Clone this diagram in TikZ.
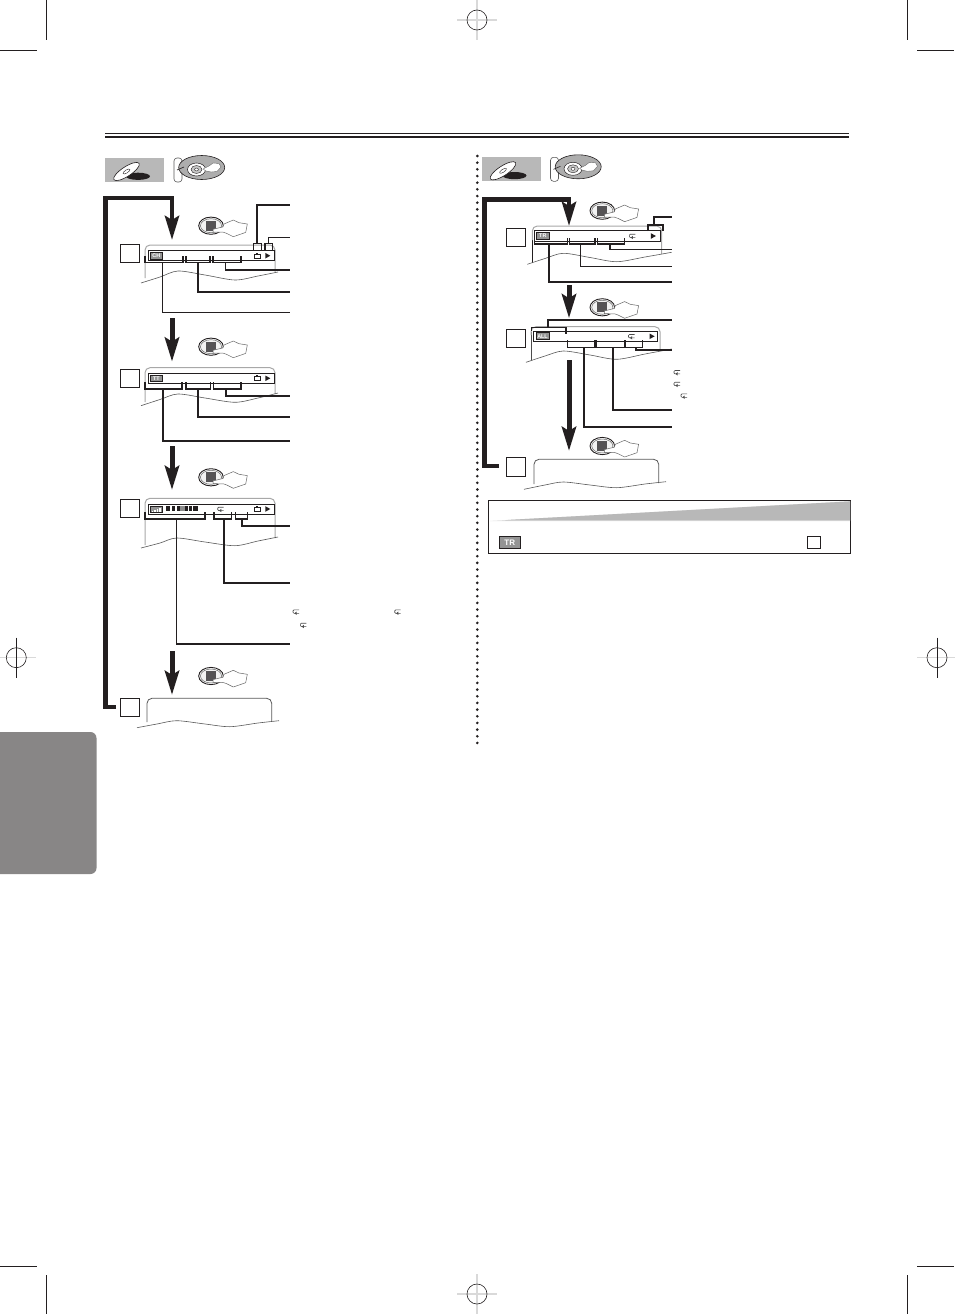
\documentclass[tikz,border=0pt]{standalone}
\usepackage{fontspec}
\setmainfont{Liberation Sans}
\usetikzlibrary{arrows.meta}
\definecolor{ink}{HTML}{231F20}
\definecolor{tabgray}{HTML}{888686}
\definecolor{panelgray}{HTML}{B8B8B8}
\definecolor{sidegray}{HTML}{A8A8A8}
\definecolor{keygray}{HTML}{555355}
\tikzset{
  trim/.style={ink,line width=1pt},
  reggray/.style={black!15,line width=1.2pt},
  stepbox/.style={draw=ink,fill=white,line width=.9pt,inner sep=0pt,minimum width=19pt,minimum height=18pt},
  badge/.style={draw=ink,fill=black!42,text=white,line width=.7pt,inner sep=0pt,font=\fontsize{5.4}{5.4}\selectfont\bfseries},
  barbox/.style={draw=ink,fill=white,line width=1pt},
  bracket/.style={draw=ink,line width=1.3pt,line join=miter},
  leadthin/.style={draw=ink,line width=1.1pt},
  leadmid/.style={draw=ink,line width=1.7pt},
  wave/.style={draw=black!65,line width=.6pt},
  shell/.style={draw=sidegray,line width=1pt,rounded corners=5pt},
  bigarrow/.style={draw=ink,line width=5pt,-{Stealth[width=14pt,length=24pt,inset=4pt]}},
  loopline/.style={draw=ink,line width=4.6pt,line join=miter,-{Stealth[width=14pt,length=24pt,inset=4pt]}},
  hand/.style={draw=black!60,fill=white,line width=.5pt,line join=round},
}
\newcommand{\regmark}[4]{%
  \draw[#3] (#1-20,#2) -- (#1+20,#2);
  \draw[#4] (#1,#2-20) -- (#1,#2+20);
  \draw[ink,line width=.6pt] (#1,#2) circle[radius=10pt];
}
\newcommand{\presskey}[2]{%
  \begin{scope}[shift={(#1,#2)}]
    \draw[ink,fill=white,line width=.9pt] (0,0) ellipse[x radius=12.3pt,y radius=8.6pt];
    \draw[black!60,fill=black!5,line width=.5pt] (0,0) ellipse[x radius=10.6pt,y radius=7pt];
    \fill[keygray] (-5,-5) rectangle (5,5);
    \draw[hand] (2,3.6) -- (12,1.2) -- (13,-1.7) -- (22.3,-5.7) -- (28,-3) -- (36.3,-1.7) -- (34.7,6.7) -- (22.3,11) -- (15.7,7.7) -- (12.3,6.5) -- (2,6.4) -- cycle;
  \end{scope}
}
\newcommand{\discicons}[2]{%
  \begin{scope}[shift={(#1,#2)}]
    \fill[panelgray] (0,0) rectangle (59,24);
    \fill[ink] (33,18.3) ellipse[x radius=12pt,y radius=3.6pt];
    \begin{scope}[shift={(21.5,13.5)},rotate=33]
      \draw[ink,fill=white,line width=.6pt] (0,0) ellipse[x radius=15pt,y radius=4.8pt];
      \draw[ink,line width=.4pt] (0,0) ellipse[x radius=4pt,y radius=1.5pt];
    \end{scope}
    \draw[black!65,fill=white,line width=.6pt,rounded corners=3pt] (69,0) rectangle (77,24);
    \draw[ink,fill=black!32,line width=.6pt] (96.7,9.5) ellipse[x radius=23pt,y radius=12pt];
    \draw[ink,line width=.6pt] (72,12) -- (79,9);
    \draw[ink,fill=white,line width=.5pt] (91.5,11.5) ellipse[x radius=9pt,y radius=6.5pt];
    \draw[ink,fill=black!22,line width=.4pt] (91.5,11.5) ellipse[x radius=5.5pt,y radius=4pt];
    \draw[ink,fill=white,line width=.4pt] (91.5,11.5) ellipse[x radius=2pt,y radius=1.5pt];
    \draw[black!60,fill=white,line width=.4pt,line join=round] (98,11) -- (104,8) -- (108,5) -- (114,5.5) -- (116,9) -- (112,13.5) -- (106,14) -- (101,13) -- cycle;
  \end{scope}
}
\newcommand{\camera}[2]{%
  \draw[ink,fill=white,line width=.6pt] (#1-3.2,#2-1.6) rectangle (#1+2.6,#2+2.2);
  \fill[ink] (#1-2.2,#2-3.2) rectangle (#1+.6,#2-1.6);
  \fill[ink] (#1+2.6,#2-.2) rectangle (#1+3.6,#2+1.6);
}
\newcommand{\playtri}[2]{\fill[ink] (#1-2.4,#2-2.8) -- (#1+2.6,#2) -- (#1-2.4,#2+2.8) -- cycle;}
\newcommand{\loopsign}[2]{%
  \draw[black!70,line width=.6pt,rounded corners=1pt] (#1+3,#2-1.8) -- (#1-3,#2-1.8) -- (#1-3,#2+1.6) -- (#1+3,#2+1.6);
  \fill[black!70] (#1-1.6,#2+1.6) -- (#1+.6,#2-.2) -- (#1+.6,#2+3.2) -- cycle;
}
\newcommand{\tick}[4]{\draw[bracket] (#1,#4) |- (#2,#3) -- (#2,#4);}
\newcommand{\leader}[6]{%
  \coordinate (#1s) at (#3,#4);
  \coordinate (#1e) at (#6,#5);
  \draw[#2] (#1s) |- (#1e);
}
\begin{document}
\begin{tikzpicture}[x=1pt,y=-1pt]
\useasboundingbox (0,0) rectangle (954,1314);
\fill[white] (0,0) rectangle (954,1314);
% trim marks
\draw[trim] (46.5,0) -- (46.5,40);
\draw[trim] (0,50.5) -- (37,50.5);
\draw[trim] (907,0) -- (907,40);
\draw[trim] (917,50.5) -- (954,50.5);
\draw[trim] (46.5,1275) -- (46.5,1314);
\draw[trim] (0,1266) -- (37,1266);
\draw[trim] (907,1275) -- (907,1314);
\draw[trim] (917,1266) -- (954,1266);
\regmark{477}{20}{reggray}{reggray}
\regmark{477}{1294}{reggray}{reggray}
\regmark{16.3}{657.7}{reggray}{trim}
\regmark{937}{657.7}{reggray}{trim}
% side tab
\fill[tabgray,rounded corners=6pt] (-10,732) rectangle (96.5,874);
% header rules
\draw[ink,line width=1pt] (105,133.7) -- (849,133.7);
\draw[ink,line width=2.2pt] (105,136.8) -- (849,136.8);
% column separator
\draw[ink,line width=2.9pt,line cap=round,dash pattern=on 0pt off 6.67pt] (477.3,156) -- (477.3,746);
\discicons{105}{158}
\discicons{481.5}{157.3}

% ---------- left column
\node[stepbox] (ls1) at (130,253) {};
\node[stepbox] (ls2) at (129.5,378.3) {};
\node[stepbox] (ls3) at (130,508.3) {};
\node[stepbox] (ls4) at (129.5,707.5) {};

% screen 1
\draw[shell] (145,278) -- (145,245) -- (275,245) -- (275,272);
\draw[wave] plot[smooth] coordinates {(141,283) (160,277) (178,271) (205,275) (235,280) (258,276) (278,272)};
\draw[barbox] (148,250.7) rectangle (274,260.7);
\node[badge,minimum width=12.7pt,minimum height=6.7pt] (lb1) at (156.3,255.7) {CH};
\camera{257.7}{255.7}
\playtri{267.7}{255.7}
\tick{145}{183}{262.3}{256}
\tick{186}{210}{262.3}{256}
\tick{213}{241}{262.3}{256}
\draw[bracket] (253.3,250) |- (261.7,243.5) -- (261.7,250);
\draw[bracket] (265,250) |- (272.3,243.5) -- (272.3,250);
\leader{la1}{leadmid}{257.3}{243.5}{205}{290}
\leader{la2}{leadthin}{268.3}{243.5}{237.7}{290}
\leader{la3}{leadthin}{225.7}{262.3}{270}{290}
\leader{la4}{leadmid}{197.7}{262.3}{291.7}{290}
\leader{la5}{leadthin}{162.7}{262.3}{312.7}{290}

% screen 2
\draw[shell] (145,402) -- (145,367.7) -- (275,367.7) -- (275,394);
\draw[wave] plot[smooth] coordinates {(141,405.7) (160,399.5) (178,394) (205,398) (235,402.3) (258,398) (278,393)};
\draw[barbox] (148,373.3) rectangle (274,383.3);
\node[badge,minimum width=12.7pt,minimum height=6.7pt] (lb2) at (156.3,378.3) {TT};
\camera{257.7}{378.3}
\playtri{267.7}{378.3}
\tick{145}{182}{389}{382}
\tick{186}{210.5}{389}{382}
\tick{213.5}{241}{389}{382}
\leader{lb3}{leadmid}{226}{389}{396}{290}
\leader{lb4}{leadmid}{197.7}{389}{416.7}{290}
\leader{lb5}{leadmid}{162.7}{389}{440.7}{290}

% screen 3
\draw[shell] (145,545) -- (145,498.3) -- (275,498.3) -- (275,538);
\draw[wave] plot[smooth] coordinates {(141,548) (160,543) (176.7,538) (205,542) (235,545.7) (258,541) (278,537)};
\draw[barbox] (148,504) rectangle (274,514.3);
\node[badge,minimum width=12.7pt,minimum height=6.7pt] (lb3b) at (156.3,509.2) {};
\foreach \i/\h in {0/1.2,1/2.2,2/3.2,3/4.2}{\fill[white] (151.5+2.5*\i,512-\h) rectangle (153+2.5*\i,512);}
\foreach \xa/\xb in {166/170,171.5/175,176.5/180,181/183.5,185/187.5,189/192,193/198}{\fill[ink] (\xa,506) rectangle (\xb,511);}
\fill[black!45] (180,506) rectangle (184.5,511);
\loopsign{220.7}{509}
\camera{257.7}{509}
\playtri{267.7}{509}
\tick{145}{205}{519}{512}
\tick{214}{231.7}{519}{512}
\tick{235.7}{247.7}{519}{512}
\leader{lc3}{leadmid}{242.3}{519}{525.7}{290}
\leader{lc4}{leadmid}{224}{519}{582.7}{290}
\leader{lc5}{leadthin}{176.7}{519}{644}{290}
\loopsign{296}{611.7}
\loopsign{397.7}{611.7}
\loopsign{303.3}{625}

% screen 4
\draw[draw=black!65,line width=.8pt,rounded corners=5pt] (147,722) -- (147,698.3) -- (271.7,698.3) -- (271.7,721);
\draw[wave] plot[smooth] coordinates {(137,727.7) (157,724) (176.7,720.7) (205,724) (230,726.7) (258,723) (279,720.7)};

% flow arrows left
\coordinate (lfa) at (172,318); \coordinate (lfb) at (172,361.7);
\coordinate (lfc) at (172,446); \coordinate (lfd) at (172,490);
\coordinate (lfe) at (172,651); \coordinate (lff) at (172,695);
\draw[bigarrow] (lfa) -- (lfb);
\draw[bigarrow] (lfc) -- (lfd);
\draw[bigarrow] (lfe) -- (lff);
\coordinate (lla) at (116,707); \coordinate (llb) at (105.4,707);
\coordinate (llc) at (105.4,198); \coordinate (lld) at (172,198); \coordinate (lle) at (172,240);
\draw[loopline] (lla) -- (llb) -- (llc) -- (lld) -- (lle);
\presskey{211}{225.7}
\presskey{211}{346.7}
\presskey{211}{477.3}
\presskey{211}{676}

% ---------- right column
\node[stepbox,minimum width=19.6pt] (rs1) at (515.8,237.5) {};
\node[stepbox] (rs2) at (515.5,338.4) {};
\node[stepbox,minimum width=19.6pt,minimum height=19pt] (rs3) at (515.8,466.7) {};

% screen 1
\draw[draw=ink,line width=.7pt] (532.3,263) -- (532.3,235);
\draw[shell] (532.3,240) -- (532.3,226) -- (661.7,226) -- (661.7,254);
\draw[wave] plot[smooth] coordinates {(527.3,264.3) (545,258.5) (563.3,253.3) (590,257.5) (616.7,261.7) (645,257) (671.7,252.3)};
\draw[barbox] (534.3,230.7) rectangle (660,241.7);
\node[badge,minimum width=13pt,minimum height=7.4pt] (rb1) at (542.8,236) {TR};
\loopsign{632.3}{236}
\playtri{653.3}{236}
\tick{534.3}{567.7}{244}{238}
\tick{569.3}{595}{244}{238}
\tick{597.3}{624.3}{244}{238}
\draw[leadmid] (647.7,231) |- (662.7,225.3) -- (662.7,231);
\leader{ra1}{leadmid}{654.3}{225.3}{217.3}{671.7}
\leader{ra3}{leadthin}{610}{244}{249.3}{671.7}
\leader{ra4}{leadthin}{580.7}{244}{266.3}{671.7}
\leader{ra5}{leadmid}{549.3}{244}{282.3}{671.7}

% screen 2
\draw[draw=black!70,line width=.7pt] (531,360) -- (531,332);
\draw[shell] (531,335) -- (531,326.7) -- (660,326.7) -- (660,350);
\draw[wave] plot[smooth] coordinates {(526,362.3) (545,356) (563.3,351) (590,355) (616.7,359.3) (645,354) (671.7,349)};
\draw[barbox] (533.3,331.7) rectangle (657.7,341.7);
\node[badge,minimum width=13pt,minimum height=7pt] (rb2) at (542.5,336.3) {ALL};
\loopsign{631.5}{336.3}
\playtri{652}{336.3}
\draw[bracket] (531.5,331) |- (566,327.7) -- (566,334.3);
\leader{rb0}{leadmid}{547.7}{327.7}{320.3}{671.7}
\tick{567.7}{595}{347.3}{340}
\tick{596.7}{624.3}{347.3}{340}
\tick{625.7}{642.7}{347.3}{340}
\leader{rb3}{leadmid}{635.7}{347.3}{349.7}{671.7}
\leader{rb4}{leadmid}{613}{347.3}{409.7}{671.7}
\leader{rb5}{leadmid}{584}{347.3}{427}{671.7}
\loopsign{677}{372.3}
\loopsign{677}{384}
\loopsign{684}{395.7}

% screen 3
\draw[draw=black!65,line width=.8pt,rounded corners=5pt] (534,484) -- (534,459.3) -- (658.7,459.3) -- (658.7,483);
\draw[wave] plot[smooth] coordinates {(524,489.3) (545,485) (563.3,482) (590,485) (616.7,487.7) (645,484) (666,481.7)};

% flow arrows right
\coordinate (rfa) at (569,285); \coordinate (rfb) at (569,318.3);
\coordinate (rfc) at (569,360); \coordinate (rfd) at (569,451);
\draw[bigarrow] (rfa) -- (rfb);
\draw[bigarrow] (rfc) -- (rfd);
\coordinate (rla) at (499,466); \coordinate (rlb) at (484.5,466);
\coordinate (rlc) at (484.5,199.5); \coordinate (rld) at (569,199.5); \coordinate (rle) at (569,226);
\draw[loopline] (rla) -- (rlb) -- (rlc) -- (rld) -- (rle);
\presskey{602.3}{210.7}
\presskey{602.3}{307.3}
\presskey{602.3}{446}

% bottom panel
\draw[ink,fill=white,line width=1pt] (488.3,500.7) rectangle (850.7,553.3);
\fill[black!12] (490,520.9) -- (850.2,501.2) -- (850.2,521.2) -- (490,521.2) -- cycle;
\fill[panelgray] (510,519.8) -- (850.2,501.4) -- (850.2,520.3) -- (505,520.3) -- cycle;
\node[badge,minimum width=20.6pt,minimum height=12.2pt,font=\fontsize{8}{8}\selectfont\bfseries] (pb) at (509.7,542.5) {TR};
\node[stepbox,minimum width=13.4pt,minimum height=12.4pt] (ps) at (814,542.5) {};
\end{tikzpicture}
\end{document}
